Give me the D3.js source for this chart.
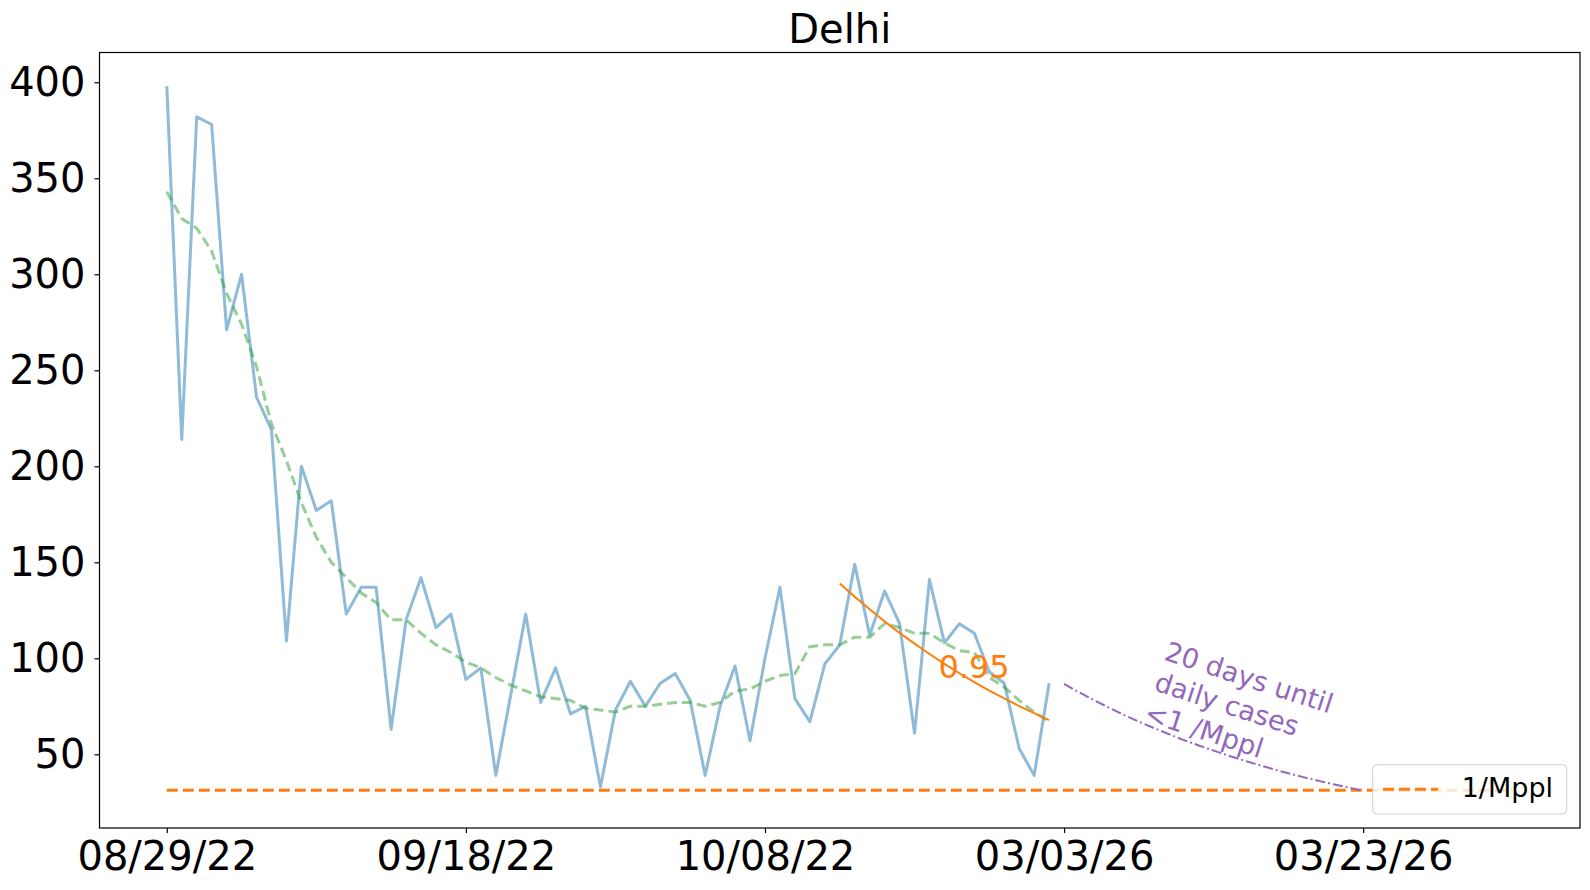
<!DOCTYPE html>
<html>
<head>
<meta charset="utf-8">
<script src="https://cdn.jsdelivr.net/npm/d3@7"></script>
<style>
  body { margin: 0; background: #fff; }
  text { font-family: "DejaVu Sans", sans-serif; }
</style>
</head>
<body>
<div id="chart"></div>
<script>
// daily cases, one point per day starting 08/29/22
var dailyCases = [398, 214, 382, 378, 271, 300, 236, 219, 109, 200,
                  177, 182, 123, 137, 137, 63, 120, 142, 116, 123,
                  89, 95, 39, 81, 123, 77, 95, 71, 75, 33,
                  73, 88, 75, 87, 92, 78, 39, 75, 96, 57,
                  100, 137, 79, 67, 97, 107, 149, 112, 135, 118,
                  61, 141, 108, 118, 113, 93, 87, 53, 39, 87];
// smoothed (dashed green)
var smoothed = [343, 329, 324, 312, 290, 274, 252, 222, 203, 181,
                163, 150, 142, 134, 129, 120, 120, 113, 107, 103,
                98, 95, 90, 86, 83, 80, 79, 78, 74, 73,
                72, 75, 75, 76, 77, 77, 75, 77, 83, 84,
                88, 91, 92, 106, 107, 107, 111, 111, 118, 116,
                113, 113, 108, 104, 103, 90, 85, 78, 72, 67];
// exponential fit over the last 15 days (rate 0.95)
var fitStart = 45;
var fitValues = [139.0, 132.1, 125.5, 119.2, 113.2, 107.6, 102.2, 97.1,
                 92.2, 87.6, 83.2, 79.1, 75.1, 71.4, 67.8];
var fitLabel = "0.95";
// projection until daily cases < 1 per million people
var projStart = 60;
var projValues = [86.6, 82.3, 78.2, 74.3, 70.5, 67.0, 63.7, 60.5, 57.4, 54.6,
                  51.9, 49.3, 46.8, 44.5, 42.2, 40.1, 38.1, 36.2, 34.4, 32.7, 31.0];
var projLabel = ["20 days until", "daily cases", "<1 /Mppl"];
var thresholdValue = 31.2;
var thresholdRange = [0, 90];
var xTicks = [0, 20, 40, 60, 80];
var xTickLabels = ["08/29/22", "09/18/22", "10/08/22", "03/03/26", "03/23/26"];
var yTicks = [50, 100, 150, 200, 250, 300, 350, 400];

var width = 1590, height = 890;
var plotLeft = 99.5, plotRight = 1580, plotTop = 52.5, plotBottom = 828;

var svg = d3.select("#chart").append("svg")
    .attr("width", width)
    .attr("height", height);

var x = d3.scaleLinear().domain([-4.5, 94.5]).range([plotLeft, plotRight]);
var y = d3.scaleLinear().domain([11.6, 415.5]).range([plotBottom, plotTop]);

var line = d3.line()
    .x(function(d) { return x(d[0]); })
    .y(function(d) { return y(d[1]); });

function pairs(vals, start) {
  return vals.map(function(v, i) { return [start + i, v]; });
}

// raw series
svg.append("path")
    .attr("d", line(pairs(dailyCases, 0)))
    .attr("fill", "none")
    .attr("stroke", "#1f77b4")
    .attr("stroke-opacity", 0.5)
    .attr("stroke-width", 3)
    .attr("stroke-linejoin", "round");

svg.append("path")
    .attr("d", line(pairs(smoothed, 0)))
    .attr("fill", "none")
    .attr("stroke", "#2ca02c")
    .attr("stroke-opacity", 0.5)
    .attr("stroke-width", 3)
    .attr("stroke-dasharray", "10,5");

svg.append("path")
    .attr("d", line(pairs(fitValues, fitStart)))
    .attr("fill", "none")
    .attr("stroke", "#ff7f0e")
    .attr("stroke-width", 2);

svg.append("text")
    .attr("x", x(51.6))
    .attr("y", y(89.9))
    .attr("fill", "#ff7f0e")
    .attr("font-size", 32)
    .text(fitLabel);

// 1/Mppl threshold
svg.append("path")
    .attr("d", line(thresholdRange.map(function(d) { return [d, thresholdValue]; })))
    .attr("fill", "none")
    .attr("stroke", "#ff7f0e")
    .attr("stroke-width", 3)
    .attr("stroke-dasharray", "11,5");

svg.append("path")
    .attr("d", line(pairs(projValues, projStart)))
    .attr("fill", "none")
    .attr("stroke", "#9467bd")
    .attr("stroke-width", 2)
    .attr("stroke-dasharray", "10,3,2,3");

var note = svg.append("g")
    .attr("transform", "translate(1153,690) rotate(18)");
note.selectAll("text")
    .data(projLabel)
    .enter().append("text")
    .attr("x", 0)
    .attr("y", function(d, i) { return (i - 1) * 32; })
    .attr("fill", "#9467bd")
    .attr("font-size", 27)
    .text(function(d) { return d; });

// axes
var xAxis = d3.axisBottom(x)
    .tickValues(xTicks)
    .tickFormat(function(d, i) { return xTickLabels[i]; })
    .tickSize(5)
    .tickPadding(9);
var yAxis = d3.axisLeft(y)
    .tickValues(yTicks)
    .tickSize(5)
    .tickPadding(9);

var gx = svg.append("g")
    .attr("transform", "translate(0," + plotBottom + ")")
    .call(xAxis);
var gy = svg.append("g")
    .attr("transform", "translate(" + plotLeft + ",0)")
    .call(yAxis);
[gx, gy].forEach(function(g) {
  g.select(".domain").remove();
  g.selectAll("line").attr("stroke", "#000").attr("stroke-width", 1.2);
  g.selectAll("text")
      .attr("font-family", "DejaVu Sans")
      .attr("font-size", 40)
      .attr("fill", "#000");
});

svg.append("rect")
    .attr("x", plotLeft)
    .attr("y", plotTop)
    .attr("width", plotRight - plotLeft)
    .attr("height", plotBottom - plotTop)
    .attr("fill", "none")
    .attr("stroke", "#000")
    .attr("stroke-width", 1.2);

svg.append("text")
    .attr("x", (plotLeft + plotRight) / 2)
    .attr("y", 43.3)
    .attr("text-anchor", "middle")
    .attr("font-size", 40)
    .text("Delhi");

// legend
var legend = svg.append("g");
legend.append("rect")
    .attr("x", 1372.7)
    .attr("y", 764.7)
    .attr("width", 194)
    .attr("height", 49.3)
    .attr("rx", 4)
    .attr("fill", "#fff")
    .attr("fill-opacity", 0.8)
    .attr("stroke", "#d0d0d0")
    .attr("stroke-width", 1);
legend.append("line")
    .attr("x1", 1383).attr("x2", 1438)
    .attr("y1", 789.3).attr("y2", 789.3)
    .attr("stroke", "#ff7f0e")
    .attr("stroke-width", 3)
    .attr("stroke-dasharray", "11,5");
legend.append("text")
    .attr("x", 1461.7)
    .attr("y", 797)
    .attr("font-size", 27)
    .text("1/Mppl");
</script>
</body>
</html>
